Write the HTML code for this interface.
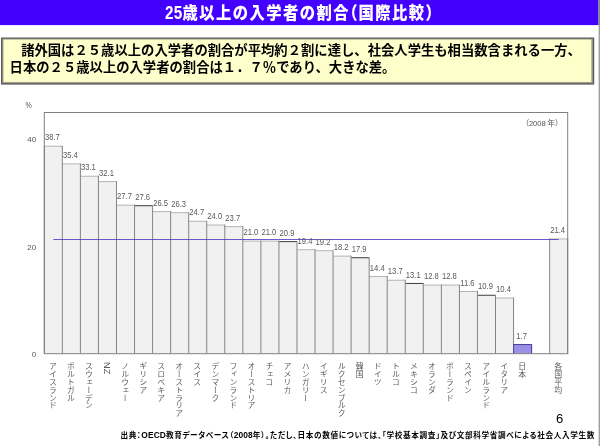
<!DOCTYPE html>
<html lang="ja"><head><meta charset="utf-8"><title>25歳以上の入学者の割合（国際比較）</title>
<style>
html,body{margin:0;padding:0;background:#fff;}
body{width:600px;height:446px;position:relative;overflow:hidden;font-family:"Liberation Sans","Noto Sans CJK JP",sans-serif;}
.ttl{position:absolute;left:164.8px;top:0.7px;height:25px;line-height:24px;color:#fff;font-weight:900;font-size:17.6px;letter-spacing:1.66px;white-space:nowrap;transform-origin:0 0;transform:scaleX(0.87);}
.ttl .n{letter-spacing:0.2px;}
.ttl .p{font-feature-settings:"halt";letter-spacing:1px;}
.bt{position:absolute;left:9.6px;top:43.4px;font-weight:600;font-size:13.34px;line-height:16.3px;color:#000;white-space:nowrap;}
.chart{position:absolute;left:0;top:0;}
.vl{text-anchor:middle;font-size:8.5px;fill:#585858;font-family:"Liberation Sans",sans-serif;}
.ax{font-size:8px;fill:#555;font-family:"Liberation Sans",sans-serif;}
.yr{font-size:7.7px;fill:#555;font-feature-settings:"halt";font-family:"Liberation Sans","Noto Sans CJK JP",sans-serif;}
.xl{position:absolute;top:361.8px;width:11px;writing-mode:vertical-rl;text-orientation:mixed;font-size:7.9px;line-height:11px;color:#5c5c5c;white-space:nowrap;font-weight:400;}
.xl .lat{font-size:9.2px;position:relative;left:1.6px;top:0.4px;}
.ft .l{font-size:8.4px;letter-spacing:0.1px;}
.pg{position:absolute;left:556px;top:408.6px;font-size:13px;line-height:20px;color:#000;}
.ft{position:absolute;left:120.4px;top:427.7px;letter-spacing:0.65px;font-size:7.6px;line-height:14px;font-weight:700;font-feature-settings:"palt";color:#000;white-space:nowrap;}
</style></head><body>
<svg class="chart" width="600" height="446" viewBox="0 0 600 446"><rect x="0" y="0" width="598.6" height="25.1" fill="#4400ff"/><rect x="598.6" y="0" width="1.4" height="446" fill="#9e9e9a"/><rect x="598.6" y="0" width="1.4" height="25" fill="#8a8a7c"/><rect x="1" y="37.5" width="593.2" height="47.1" fill="#5a5a5a"/><rect x="2.3" y="38.7" width="590.5" height="44.5" fill="#a3a38c"/><rect x="3.5" y="39.6" width="587.8" height="42.3" fill="#ffffcc"/></svg>
<div class="ttl"><span class="n">25</span>歳以上の入学者の割合<span class="p">（</span>国際比較<span class="p">）</span></div>

<div class="bt"><span style="letter-spacing:-1.8px">　</span>諸外国は２５歳以上の入学者の割合が平均約２割に達し、社会人学生も相当数含まれる一方、<br>日本の２５歳以上の入学者の割合は１．７％であり、大きな差。</div>
<svg class="chart" width="600" height="446" viewBox="0 0 600 446">
<rect x="44.30" y="146.20" width="18.05" height="207.50" fill="#f1f1f1"/>
<rect x="62.35" y="163.89" width="18.05" height="189.81" fill="#f1f1f1"/>
<rect x="80.40" y="176.23" width="18.05" height="177.47" fill="#f1f1f1"/>
<rect x="98.44" y="181.59" width="18.05" height="172.11" fill="#f1f1f1"/>
<rect x="116.49" y="205.18" width="18.05" height="148.52" fill="#f1f1f1"/>
<rect x="134.54" y="205.72" width="18.05" height="147.98" fill="#f1f1f1"/>
<rect x="152.59" y="211.61" width="18.05" height="142.09" fill="#f1f1f1"/>
<rect x="170.64" y="212.69" width="18.05" height="141.01" fill="#f1f1f1"/>
<rect x="188.69" y="221.26" width="18.05" height="132.44" fill="#f1f1f1"/>
<rect x="206.73" y="225.02" width="18.05" height="128.68" fill="#f1f1f1"/>
<rect x="224.78" y="226.63" width="18.05" height="127.07" fill="#f1f1f1"/>
<rect x="242.83" y="241.10" width="18.05" height="112.60" fill="#f1f1f1"/>
<rect x="260.88" y="241.10" width="18.05" height="112.60" fill="#f1f1f1"/>
<rect x="278.93" y="241.64" width="18.05" height="112.06" fill="#f1f1f1"/>
<rect x="296.98" y="249.68" width="18.05" height="104.02" fill="#f1f1f1"/>
<rect x="315.02" y="250.75" width="18.05" height="102.95" fill="#f1f1f1"/>
<rect x="333.07" y="256.12" width="18.05" height="97.58" fill="#f1f1f1"/>
<rect x="351.12" y="257.72" width="18.05" height="95.98" fill="#f1f1f1"/>
<rect x="369.17" y="276.49" width="18.05" height="77.21" fill="#f1f1f1"/>
<rect x="387.22" y="280.24" width="18.05" height="73.46" fill="#f1f1f1"/>
<rect x="405.27" y="283.46" width="18.05" height="70.24" fill="#f1f1f1"/>
<rect x="423.31" y="285.07" width="18.05" height="68.63" fill="#f1f1f1"/>
<rect x="441.36" y="285.07" width="18.05" height="68.63" fill="#f1f1f1"/>
<rect x="459.41" y="291.50" width="18.05" height="62.20" fill="#f1f1f1"/>
<rect x="477.46" y="295.26" width="18.05" height="58.44" fill="#f1f1f1"/>
<rect x="495.51" y="297.94" width="18.05" height="55.76" fill="#f1f1f1"/>
<rect x="513.56" y="344.59" width="18.05" height="9.11" fill="#9b8fe6"/>
<rect x="549.65" y="238.96" width="18.05" height="114.74" fill="#f1f1f1"/>
<line x1="44.30" y1="146.20" x2="62.35" y2="146.20" stroke="#b4b4b4" stroke-width="1"/>
<line x1="62.35" y1="163.89" x2="80.40" y2="163.89" stroke="#b4b4b4" stroke-width="1"/>
<line x1="80.40" y1="176.23" x2="98.44" y2="176.23" stroke="#b4b4b4" stroke-width="1"/>
<line x1="98.44" y1="181.59" x2="116.49" y2="181.59" stroke="#b4b4b4" stroke-width="1"/>
<line x1="116.49" y1="205.18" x2="134.54" y2="205.18" stroke="#b4b4b4" stroke-width="1"/>
<line x1="134.54" y1="205.72" x2="152.59" y2="205.72" stroke="#3c3c3c" stroke-width="1"/>
<line x1="152.59" y1="211.61" x2="170.64" y2="211.61" stroke="#b4b4b4" stroke-width="1"/>
<line x1="170.64" y1="212.69" x2="188.69" y2="212.69" stroke="#b4b4b4" stroke-width="1"/>
<line x1="188.69" y1="221.26" x2="206.73" y2="221.26" stroke="#b4b4b4" stroke-width="1"/>
<line x1="206.73" y1="225.02" x2="224.78" y2="225.02" stroke="#b4b4b4" stroke-width="1"/>
<line x1="224.78" y1="226.63" x2="242.83" y2="226.63" stroke="#b4b4b4" stroke-width="1"/>
<line x1="242.83" y1="241.10" x2="260.88" y2="241.10" stroke="#b4b4b4" stroke-width="1"/>
<line x1="260.88" y1="241.10" x2="278.93" y2="241.10" stroke="#b4b4b4" stroke-width="1"/>
<line x1="278.93" y1="241.64" x2="296.98" y2="241.64" stroke="#3c3c3c" stroke-width="1"/>
<line x1="296.98" y1="249.68" x2="315.02" y2="249.68" stroke="#b4b4b4" stroke-width="1"/>
<line x1="315.02" y1="250.75" x2="333.07" y2="250.75" stroke="#b4b4b4" stroke-width="1"/>
<line x1="333.07" y1="256.12" x2="351.12" y2="256.12" stroke="#b4b4b4" stroke-width="1"/>
<line x1="351.12" y1="257.72" x2="369.17" y2="257.72" stroke="#3c3c3c" stroke-width="1"/>
<line x1="369.17" y1="276.49" x2="387.22" y2="276.49" stroke="#b4b4b4" stroke-width="1"/>
<line x1="387.22" y1="280.24" x2="405.27" y2="280.24" stroke="#b4b4b4" stroke-width="1"/>
<line x1="405.27" y1="283.46" x2="423.31" y2="283.46" stroke="#3c3c3c" stroke-width="1"/>
<line x1="423.31" y1="285.07" x2="441.36" y2="285.07" stroke="#b4b4b4" stroke-width="1"/>
<line x1="441.36" y1="285.07" x2="459.41" y2="285.07" stroke="#b4b4b4" stroke-width="1"/>
<line x1="459.41" y1="291.50" x2="477.46" y2="291.50" stroke="#b4b4b4" stroke-width="1"/>
<line x1="477.46" y1="295.26" x2="495.51" y2="295.26" stroke="#3c3c3c" stroke-width="1"/>
<line x1="495.51" y1="297.94" x2="513.56" y2="297.94" stroke="#b4b4b4" stroke-width="1"/>
<line x1="513.56" y1="344.59" x2="531.60" y2="344.59" stroke="#3f389c" stroke-width="1"/>
<line x1="549.65" y1="238.96" x2="567.70" y2="238.96" stroke="#b4b4b4" stroke-width="1"/>
<line x1="44.30" y1="145.70" x2="44.30" y2="353.70" stroke="#858585" stroke-width="1"/>
<line x1="62.35" y1="145.70" x2="62.35" y2="353.70" stroke="#858585" stroke-width="1"/>
<line x1="80.40" y1="163.39" x2="80.40" y2="353.70" stroke="#858585" stroke-width="1"/>
<line x1="98.44" y1="175.73" x2="98.44" y2="353.70" stroke="#858585" stroke-width="1"/>
<line x1="116.49" y1="181.09" x2="116.49" y2="353.70" stroke="#858585" stroke-width="1"/>
<line x1="134.54" y1="204.68" x2="134.54" y2="353.70" stroke="#858585" stroke-width="1"/>
<line x1="152.59" y1="205.22" x2="152.59" y2="353.70" stroke="#858585" stroke-width="1"/>
<line x1="170.64" y1="211.11" x2="170.64" y2="353.70" stroke="#858585" stroke-width="1"/>
<line x1="188.69" y1="212.19" x2="188.69" y2="353.70" stroke="#858585" stroke-width="1"/>
<line x1="206.73" y1="220.76" x2="206.73" y2="353.70" stroke="#858585" stroke-width="1"/>
<line x1="224.78" y1="224.52" x2="224.78" y2="353.70" stroke="#858585" stroke-width="1"/>
<line x1="242.83" y1="226.13" x2="242.83" y2="353.70" stroke="#858585" stroke-width="1"/>
<line x1="260.88" y1="240.60" x2="260.88" y2="353.70" stroke="#858585" stroke-width="1"/>
<line x1="278.93" y1="240.60" x2="278.93" y2="353.70" stroke="#858585" stroke-width="1"/>
<line x1="296.98" y1="241.14" x2="296.98" y2="353.70" stroke="#858585" stroke-width="1"/>
<line x1="315.02" y1="249.18" x2="315.02" y2="353.70" stroke="#858585" stroke-width="1"/>
<line x1="333.07" y1="250.25" x2="333.07" y2="353.70" stroke="#858585" stroke-width="1"/>
<line x1="351.12" y1="255.62" x2="351.12" y2="353.70" stroke="#858585" stroke-width="1"/>
<line x1="369.17" y1="257.22" x2="369.17" y2="353.70" stroke="#858585" stroke-width="1"/>
<line x1="387.22" y1="275.99" x2="387.22" y2="353.70" stroke="#858585" stroke-width="1"/>
<line x1="405.27" y1="279.74" x2="405.27" y2="353.70" stroke="#858585" stroke-width="1"/>
<line x1="423.31" y1="282.96" x2="423.31" y2="353.70" stroke="#858585" stroke-width="1"/>
<line x1="441.36" y1="284.57" x2="441.36" y2="353.70" stroke="#858585" stroke-width="1"/>
<line x1="459.41" y1="284.57" x2="459.41" y2="353.70" stroke="#858585" stroke-width="1"/>
<line x1="477.46" y1="291.00" x2="477.46" y2="353.70" stroke="#858585" stroke-width="1"/>
<line x1="495.51" y1="294.76" x2="495.51" y2="353.70" stroke="#858585" stroke-width="1"/>
<line x1="513.56" y1="297.44" x2="513.56" y2="353.70" stroke="#858585" stroke-width="1"/>
<line x1="513.56" y1="344.09" x2="513.56" y2="353.70" stroke="#4a44a8" stroke-width="1"/>
<line x1="531.60" y1="344.09" x2="531.60" y2="353.70" stroke="#858585" stroke-width="1"/>
<line x1="531.60" y1="344.09" x2="531.60" y2="353.70" stroke="#4a44a8" stroke-width="1"/>
<line x1="549.65" y1="238.46" x2="549.65" y2="353.70" stroke="#858585" stroke-width="1"/>
<line x1="567.70" y1="238.46" x2="567.70" y2="353.70" stroke="#858585" stroke-width="1"/>
<rect x="44.30" y="112.50" width="523.40" height="241.20" fill="none" stroke="#808080" stroke-width="1"/>
<line x1="53.32" y1="239.50" x2="558.68" y2="239.50" stroke="#4a3ec4" stroke-width="0.85"/>
<text class="vl" transform="translate(52.32,140.30) scale(0.9,1)">38.7</text>
<text class="vl" transform="translate(70.37,157.99) scale(0.9,1)">35.4</text>
<text class="vl" transform="translate(88.42,170.33) scale(0.9,1)">33.1</text>
<text class="vl" transform="translate(106.47,175.69) scale(0.9,1)">32.1</text>
<text class="vl" transform="translate(124.52,199.28) scale(0.9,1)">27.7</text>
<text class="vl" transform="translate(142.57,199.82) scale(0.9,1)">27.6</text>
<text class="vl" transform="translate(160.61,205.71) scale(0.9,1)">26.5</text>
<text class="vl" transform="translate(178.66,206.79) scale(0.9,1)">26.3</text>
<text class="vl" transform="translate(196.71,215.36) scale(0.9,1)">24.7</text>
<text class="vl" transform="translate(214.76,219.12) scale(0.9,1)">24.0</text>
<text class="vl" transform="translate(232.81,220.73) scale(0.9,1)">23.7</text>
<text class="vl" transform="translate(250.86,235.20) scale(0.9,1)">21.0</text>
<text class="vl" transform="translate(268.90,235.20) scale(0.9,1)">21.0</text>
<text class="vl" transform="translate(286.95,235.74) scale(0.9,1)">20.9</text>
<text class="vl" transform="translate(305.00,243.78) scale(0.9,1)">19.4</text>
<text class="vl" transform="translate(323.05,244.85) scale(0.9,1)">19.2</text>
<text class="vl" transform="translate(341.10,250.22) scale(0.9,1)">18.2</text>
<text class="vl" transform="translate(359.14,251.82) scale(0.9,1)">17.9</text>
<text class="vl" transform="translate(377.19,270.59) scale(0.9,1)">14.4</text>
<text class="vl" transform="translate(395.24,274.34) scale(0.9,1)">13.7</text>
<text class="vl" transform="translate(413.29,277.56) scale(0.9,1)">13.1</text>
<text class="vl" transform="translate(431.34,279.17) scale(0.9,1)">12.8</text>
<text class="vl" transform="translate(449.39,279.17) scale(0.9,1)">12.8</text>
<text class="vl" transform="translate(467.43,285.60) scale(0.9,1)">11.6</text>
<text class="vl" transform="translate(485.48,289.36) scale(0.9,1)">10.9</text>
<text class="vl" transform="translate(503.53,292.04) scale(0.9,1)">10.4</text>
<text class="vl" transform="translate(521.58,338.69) scale(0.9,1)">1.7</text>
<text class="vl" transform="translate(557.68,233.06) scale(0.9,1)">21.4</text>
<text class="ax" transform="translate(25.6,107.8) scale(0.88,1.12)">%</text>
<text class="ax" x="36.2" y="142.33" text-anchor="end">40</text>
<text class="ax" x="36.2" y="249.56" text-anchor="end">20</text>
<text class="ax" x="36.2" y="356.80" text-anchor="end">0</text>
<text class="yr" x="525.3" y="126" textLength="33.6" lengthAdjust="spacing">（2008 年）</text>
</svg>
<div class="xl" style="left:46.42px">アイスランド</div>
<div class="xl" style="left:64.47px">ポルトガル</div>
<div class="xl" style="left:82.52px">スウェーデン</div>
<div class="xl" style="left:100.57px"><span class="lat">NZ</span></div>
<div class="xl" style="left:118.62px">ノルウェー</div>
<div class="xl" style="left:136.67px">ギリシア</div>
<div class="xl" style="left:154.71px">スロベキア</div>
<div class="xl" style="left:172.76px">オーストラリア</div>
<div class="xl" style="left:190.81px">スイス</div>
<div class="xl" style="left:208.86px">デンマーク</div>
<div class="xl" style="left:226.91px">フィンランド</div>
<div class="xl" style="left:244.96px">オーストリア</div>
<div class="xl" style="left:263.00px">チェコ</div>
<div class="xl" style="left:281.05px">アメリカ</div>
<div class="xl" style="left:299.10px">ハンガリー</div>
<div class="xl" style="left:317.15px">イギリス</div>
<div class="xl" style="left:335.20px">ルクセンブルク</div>
<div class="xl" style="left:353.24px">韓国</div>
<div class="xl" style="left:371.29px">ドイツ</div>
<div class="xl" style="left:389.34px">トルコ</div>
<div class="xl" style="left:407.39px">メキシコ</div>
<div class="xl" style="left:425.44px">オランダ</div>
<div class="xl" style="left:443.49px">ポーランド</div>
<div class="xl" style="left:461.53px">スペイン</div>
<div class="xl" style="left:479.58px">アイルランド</div>
<div class="xl" style="left:497.63px">イタリア</div>
<div class="xl" style="left:515.68px">日本</div>
<div class="xl" style="left:551.78px">各国平均</div>
<div class="pg">6</div>
<div class="ft">出典：<span class="l">OECD</span>教育データベース（<span class="l">2008</span>年）。ただし、日本の数値については、「学校基本調査」及び文部科学省調べによる社会人入学生数</div>
</body></html>
